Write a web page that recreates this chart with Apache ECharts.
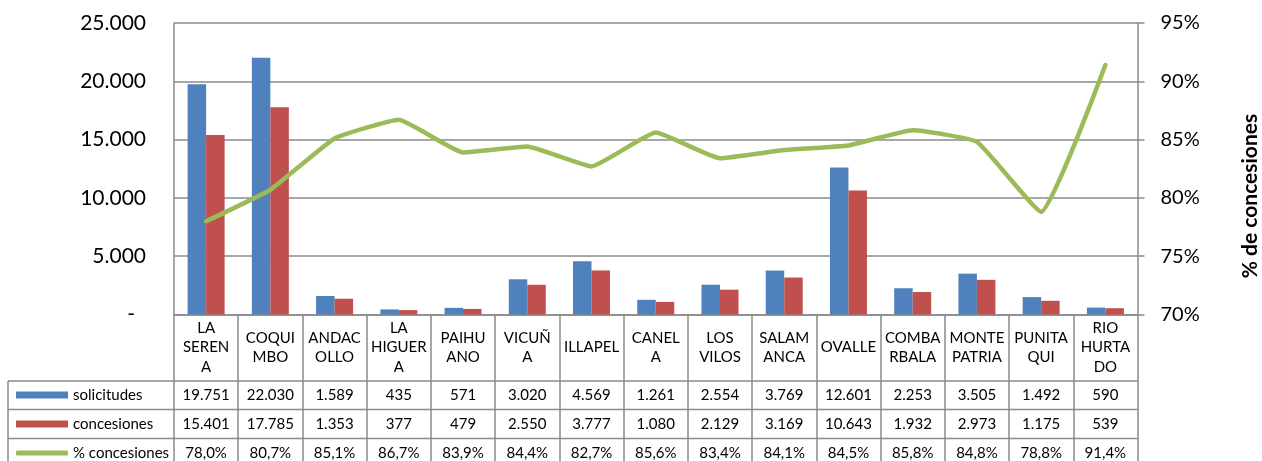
<!DOCTYPE html>
<html>
<head>
<meta charset="utf-8">
<script src="https://cdn.jsdelivr.net/npm/echarts@6/dist/echarts.min.js"></script>
<style>
html, body { margin: 0; padding: 0; background: #fff; }
#chart { width: 1262px; height: 461px; }
</style>
</head>
<body>
<div id="chart"></div>
<script>
// comunas (as they wrap in the table cells)
var categoryLabels = ['LA\nSEREN\nA', 'COQUI\nMBO', 'ANDAC\nOLLO', 'LA\nHIGUER\nA', 'PAIHU\nANO',
    'VICUÑ\nA', 'ILLAPEL', 'CANEL\nA', 'LOS\nVILOS', 'SALAM\nANCA',
    'OVALLE', 'COMBA\nRBALA', 'MONTE\nPATRIA', 'PUNITA\nQUI', 'RIO\nHURTA\nDO'];
var solicitudes = [19751, 22030, 1589, 435, 571, 3020, 4569, 1261, 2554, 3769, 12601, 2253, 3505, 1492, 590];
var concesiones = [15401, 17785, 1353, 377, 479, 2550, 3777, 1080, 2129, 3169, 10643, 1932, 2973, 1175, 539];
var pctConcesiones = [78.0, 80.7, 85.1, 86.7, 83.9, 84.4, 82.7, 85.6, 83.4, 84.1, 84.5, 85.8, 84.8, 78.8, 91.4];

var FONT = 'Lato';
var GRAY = '#8a8a8a';

function miles(v) {
    return String(v).replace(/\B(?=(\d{3})+(?!\d))/g, '.');
}
function pct(v) {
    return v.toFixed(1).replace('.', ',') + '%';
}

// plot area / table rows in pixels
var L = 174, R = 1137.5, T = 23, B = 314.5;
var tableLeft = 8;
var rowLines = [381, 409.5, 438.5, 467];
var rowCenters = [395, 424, 453];

var dom = document.getElementById('chart');
var myChart = echarts.init(dom);

function valueRow(data, fmt, off) {
    return {
        type: 'category',
        gridIndex: 0,
        position: 'bottom',
        offset: off,
        data: data.map(fmt),
        axisLine: { show: false },
        axisTick: { show: false },
        axisLabel: {
            interval: 0, margin: 0, verticalAlign: 'middle',
            fontFamily: FONT, fontSize: 15, color: '#000'
        }
    };
}

function rowLegend(name, i, h, icon) {
    return {
        data: [{ name: name, icon: icon }],
        left: 16,
        top: rowCenters[i] - 8,
        padding: 0,
        itemWidth: 52,
        itemHeight: h,
        itemGap: 0,
        textStyle: { fontFamily: FONT, fontSize: 15, color: '#000', lineHeight: 16 }
    };
}

var graphics = [];
rowLines.forEach(function (y) {
    graphics.push({
        type: 'line',
        shape: { x1: tableLeft, y1: y, x2: R, y2: y },
        style: { stroke: GRAY, lineWidth: 1.5 }
    });
});
graphics.push({
    type: 'line',
    shape: { x1: tableLeft, y1: rowLines[0], x2: tableLeft, y2: 470 },
    style: { stroke: GRAY, lineWidth: 1.5 }
});
graphics.push({
    type: 'text',
    x: 1250, y: 196,
    rotation: Math.PI / 2,
    style: {
        text: '% de concesiones',
        font: 'bold 21px ' + FONT,
        fill: '#000',
        align: 'center',
        verticalAlign: 'middle'
    }
});

option = {
    animation: false,
    textStyle: { fontFamily: FONT },
    grid: { left: L, right: 1262 - R, top: T, bottom: 461 - B },
    legend: [
        rowLegend('solicitudes', 0, 7, 'rect'),
        rowLegend('concesiones', 1, 7, 'rect'),
        rowLegend('% concesiones', 2, 5, 'roundRect')
    ],
    xAxis: [
        {
            type: 'category',
            data: categoryLabels,
            axisLine: { lineStyle: { color: GRAY, width: 1.5 } },
            axisTick: { show: true, interval: 0, length: 160, lineStyle: { color: GRAY, width: 1.5 } },
            axisLabel: {
                interval: 0, margin: 33, verticalAlign: 'middle',
                fontFamily: FONT, fontSize: 15, lineHeight: 19.5, color: '#000'
            }
        },
        valueRow(solicitudes, miles, 80.5),
        valueRow(concesiones, miles, 109.5),
        valueRow(pctConcesiones, pct, 138.5)
    ],
    yAxis: [
        {
            type: 'value',
            min: 0, max: 25000, interval: 5000,
            axisLine: { show: true, lineStyle: { color: GRAY, width: 1.5 } },
            axisTick: { show: false },
            splitLine: { lineStyle: { color: GRAY, width: 1.5 } },
            axisLabel: {
                margin: 28, fontFamily: FONT, fontSize: 21, color: '#000',
                formatter: function (v) { return v === 0 ? '{dash|-}' : miles(v); },
                rich: {
                    dash: { fontFamily: FONT, fontSize: 21, color: '#000', padding: [0, 11, 0, 0] }
                }
            }
        },
        {
            type: 'value',
            position: 'right',
            min: 70, max: 95, interval: 5,
            axisLine: { show: true, lineStyle: { color: GRAY, width: 1.5 } },
            axisTick: { show: true, length: 7, lineStyle: { color: GRAY, width: 1.5 } },
            splitLine: { show: false },
            axisLabel: {
                margin: 23, fontFamily: FONT, fontSize: 20, color: '#000',
                formatter: '{value}%'
            }
        }
    ],
    series: [
        {
            name: 'solicitudes',
            type: 'bar',
            barWidth: 18.5,
            barGap: '0%',
            itemStyle: { color: '#4F81BD' },
            data: solicitudes
        },
        {
            name: 'concesiones',
            type: 'bar',
            barWidth: 18.5,
            itemStyle: { color: '#C0504D' },
            data: concesiones
        },
        {
            name: '% concesiones',
            type: 'line',
            yAxisIndex: 1,
            smooth: 0.12,
            showSymbol: false,
            symbol: 'none',
            itemStyle: { color: '#9BBB59' },
            lineStyle: { color: '#9BBB59', width: 4.5, cap: 'round', join: 'round' },
            data: pctConcesiones
        }
    ],
    graphic: graphics
};

if (option && typeof option === "object") {
    myChart.setOption(option, true);
}
</script>
</body>
</html>
